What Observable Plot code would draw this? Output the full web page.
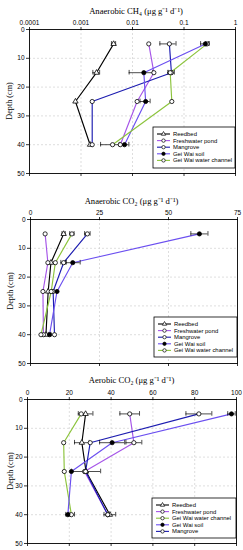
<!DOCTYPE html>
<html><head><meta charset="utf-8">
<script src="https://cdn.jsdelivr.net/npm/d3@7"></script>
<script src="https://cdn.jsdelivr.net/npm/@observablehq/plot@0.6"></script>
<style>
body{margin:0;background:#fff;}
#wrap{width:243px;}
svg{display:block;}
</style></head><body><div id="wrap"></div>
<script>
// ---------- shared ----------
const depths = [5, 15, 25, 40];
const depthTicks = [0, 10, 20, 30, 40, 50];
const depthLabel = "Depth (cm)";

// ---------- panel 1: anaerobic CH4 ----------
const ch4Title = "Anaerobic CH₄ (μg g⁻¹ d⁻¹)";
const ch4Ticks = [0.0001, 0.001, 0.01, 0.1, 1];
const ch4Order = ["Reedbed", "Freshwater pond", "Mangrove", "Gei Wai soil", "Gei Wai water channel"];
const ch4Reedbed    = [0.0043, 0.0020, 0.00078, 0.0015];
const ch4Freshwater = [0.0207, 0.026, 0.0123, 0.0058];
const ch4Mangrove   = [0.052, 0.057, 0.00165, 0.00165];
const ch4Soil       = [0.26, 0.0166, 0.018, 0.0070];
const ch4Channel    = [0.28, 0.054, 0.058, 0.0041];
const ch4ReedbedErr    = [0.0004, 0.0003, 0, 0];
const ch4FreshwaterErr = [0, 0, 0, 0];
const ch4MangroveErr   = [0.018, 0.008, 0, 0];
const ch4SoilErr       = [0.05, 0.008, 0.004, 0.0015];
const ch4ChannelErr    = [0.02, 0.005, 0, 0.0017];

// ---------- panel 2: anaerobic CO2 ----------
const co2anTitle = "Anaerobic CO₂ (μg g⁻¹ d⁻¹)";
const co2anTicks = [0, 25, 50, 75];
const co2anOrder = ["Reedbed", "Freshwater pond", "Mangrove", "Gei Wai soil", "Gei Wai water channel"];
const co2anReedbed    = [12.0, 7.4, 6.4, 5.6];
const co2anFreshwater = [5.3, 6.3, 4.5, 4.7];
const co2anMangrove   = [20.6, 12.0, 8.2, 8.7];
const co2anSoil       = [61.2, 15.3, 9.6, 6.9];
const co2anChannel    = [15.0, 9.0, 7.5, 3.8];
const co2anReedbedErr    = [0.6, 0, 0, 0];
const co2anFreshwaterErr = [0, 0, 0, 0];
const co2anMangroveErr   = [1.0, 1.0, 0, 0];
const co2anSoilErr       = [3.1, 2.7, 0, 0.5];
const co2anChannelErr    = [0.8, 0, 0, 0];

// ---------- panel 3: aerobic CO2 ----------
const co2aeTitle = "Aerobic CO₂ (μg g⁻¹ d⁻¹)";
const co2aeTicks = [0, 20, 40, 60, 80, 100];
const co2aeOrder = ["Reedbed", "Freshwater pond", "Gei Wai water channel", "Gei Wai soil", "Mangrove"];
const co2aeReedbed    = [27.8, 26.0, 28.0, 39.4];
const co2aeFreshwater = [48.9, 50.9, 27.3, 38.4];
const co2aeMangrove   = [82.0, 30.0, 27.8, 38.4];
const co2aeSoil       = [97.6, 40.5, 21.0, 19.3];
const co2aeChannel    = [25.7, 17.3, 17.6, 21.0];
const co2aeReedbedErr    = [3.5, 3.5, 7.0, 2.8];
const co2aeFreshwaterErr = [4.7, 3.8, 0, 0];
const co2aeMangroveErr   = [6.2, 0, 0, 0];
const co2aeSoilErr       = [1.8, 6.0, 0, 1.0];
const co2aeChannelErr    = [0, 0, 0, 1.5];

// ---------- styles ----------
const seriesColor = {
  "Reedbed": "#000000",
  "Freshwater pond": "#a655e8",
  "Mangrove": "#1c1cb0",
  "Gei Wai soil": "#6b4ff0",
  "Gei Wai water channel": "#8cc43c"
};
const SANS = "'Liberation Sans', Arial, sans-serif";
const SERIF = "'Liberation Serif', 'Times New Roman', serif";

function buildRows(map) {
  const rows = [];
  for (const [name, vals, errs] of map) {
    vals.forEach((v, i) => rows.push({s: name, d: depths[i], v, e: errs[i]}));
  }
  return rows;
}

function panel(cfg) {
  const rows = buildRows(cfg.series);
  const names = cfg.order;
  const errRows = rows.filter(r => r.e > 0).map(r => ({d: r.d, lo: Math.max(r.v - r.e, cfg.minX), hi: r.v + r.e}));
  const capRows = errRows.flatMap(r => [{d: r.d, x: r.lo}, {d: r.d, x: r.hi}]);
  const gridStyle = {stroke: "#c8c8c8", strokeOpacity: 1, strokeDasharray: "2,2", strokeWidth: 0.6};
  const svg = Plot.plot({
    width: 243, height: cfg.height,
    marginTop: cfg.mt, marginBottom: cfg.mb, marginLeft: cfg.ml, marginRight: cfg.mr,
    x: {type: cfg.type, domain: cfg.domain},
    y: {domain: [0, 50], reverse: true},
    color: {domain: names, range: names.map(n => seriesColor[n])},
    style: {fontFamily: SANS, fontSize: "6.5px", background: "white", color: "#000", overflow: "visible"},
    marks: [
      Plot.gridX(cfg.ticks.slice(1, -1), gridStyle),
      Plot.gridY([10, 20, 30, 40], gridStyle),
      Plot.axisX({anchor: "top", ticks: cfg.ticks, tickFormat: cfg.fmt, tickSize: 3, tickPadding: 1.5, label: null, strokeWidth: 0.8}),
      Plot.axisX({anchor: "bottom", ticks: cfg.ticks, tickFormat: () => "", tickSize: 3, label: null, strokeWidth: 0.8}),
      Plot.axisY({ticks: depthTicks, tickSize: 3, tickPadding: 2, label: null, strokeWidth: 0.8}),
      Plot.frame({stroke: "#000", strokeWidth: 0.9}),
      Plot.line(rows, {x: "v", y: "d", z: "s", stroke: "s", strokeWidth: 1.15}),
      Plot.ruleY(errRows, {y: "d", x1: "lo", x2: "hi", stroke: "#000", strokeWidth: 0.7}),
      Plot.ruleX(capRows, {x: "x", y1: r => r.d - 0.8, y2: r => r.d + 0.8, stroke: "#000", strokeWidth: 0.7}),
      Plot.dot(rows.filter(r => r.s === "Reedbed"), {x: "v", y: "d", symbol: "triangle", r: 2.0, fill: "white", stroke: "#000", strokeWidth: 0.8}),
      Plot.dot(rows.filter(r => r.s !== "Reedbed" && r.s !== "Gei Wai soil"), {x: "v", y: "d", r: 2.1, fill: "white", stroke: "#000", strokeWidth: 0.8}),
      Plot.dot(rows.filter(r => r.s === "Gei Wai soil"), {x: "v", y: "d", r: 2.1, fill: "#000", stroke: "#000", strokeWidth: 0.8})
    ]
  });
  const s = d3.select(svg);
  // title
  s.append("text").attr("x", cfg.titleX).attr("y", cfg.titleY)
    .attr("text-anchor", "middle").attr("font-family", SERIF).attr("font-size", "8.6px").attr("fill", "#000")
    .text(cfg.title);
  // y label
  const cy = cfg.mt + (cfg.height - cfg.mt - cfg.mb) / 2;
  s.append("text").attr("transform", `translate(${cfg.ylabX},${cy}) rotate(-90)`)
    .attr("text-anchor", "middle").attr("dy", "0.35em").attr("font-family", SERIF).attr("font-size", "8.2px").attr("fill", "#000")
    .text(depthLabel);
  // legend
  const [bx, by, bw, bh] = cfg.legend;
  const g = s.append("g").attr("text-anchor", "start");
  g.append("rect").attr("x", bx).attr("y", by).attr("width", bw).attr("height", bh)
    .attr("fill", "white").attr("stroke", "#000").attr("stroke-width", 0.8);
  names.forEach((n, i) => {
    const yy = by + 7 + i * 6.6;
    g.append("line").attr("x1", bx + 4).attr("x2", bx + 17).attr("y1", yy).attr("y2", yy)
      .attr("stroke", seriesColor[n]).attr("stroke-width", 1.1);
    if (n === "Reedbed") {
      g.append("path").attr("d", d3.symbol(d3.symbolTriangle, 8)()).attr("transform", `translate(${bx + 10.5},${yy})`)
        .attr("fill", "white").attr("stroke", "#000").attr("stroke-width", 0.7);
    } else {
      g.append("circle").attr("cx", bx + 10.5).attr("cy", yy).attr("r", 1.7)
        .attr("fill", n === "Gei Wai soil" ? "#000" : "white").attr("stroke", "#000").attr("stroke-width", 0.7);
    }
    g.append("text").attr("x", bx + 20).attr("y", yy).attr("dy", "0.35em").attr("text-anchor", "start")
      .attr("font-family", SANS).attr("font-size", "5.9px").attr("fill", "#000").text(n);
  });
  return svg;
}

const wrap = document.getElementById("wrap");

wrap.appendChild(panel({
  title: ch4Title, titleX: 136, titleY: 13.5, ylabX: 9,
  type: "log", domain: [0.0001, 1], ticks: ch4Ticks, fmt: d => String(d), minX: 0.00011,
  order: ch4Order,
  series: [["Reedbed", ch4Reedbed, ch4ReedbedErr], ["Freshwater pond", ch4Freshwater, ch4FreshwaterErr],
           ["Mangrove", ch4Mangrove, ch4MangroveErr], ["Gei Wai soil", ch4Soil, ch4SoilErr],
           ["Gei Wai water channel", ch4Channel, ch4ChannelErr]],
  height: 183, mt: 29, mb: 10, ml: 29, mr: 8,
  legend: [153, 127, 82, 41]
}));

wrap.appendChild(panel({
  title: co2anTitle, titleX: 131.5, titleY: 20.5, ylabX: 10,
  type: "linear", domain: [0, 75], ticks: co2anTicks, fmt: d => String(d), minX: 0,
  order: co2anOrder,
  series: [["Reedbed", co2anReedbed, co2anReedbedErr], ["Freshwater pond", co2anFreshwater, co2anFreshwaterErr],
           ["Mangrove", co2anMangrove, co2anMangroveErr], ["Gei Wai soil", co2anSoil, co2anSoilErr],
           ["Gei Wai water channel", co2anChannel, co2anChannelErr]],
  height: 189, mt: 36, mb: 9, ml: 30, mr: 6,
  legend: [154, 134, 83, 40]
}));

wrap.appendChild(panel({
  title: co2aeTitle, titleX: 131.5, titleY: 10.5, ylabX: 10,
  type: "linear", domain: [0, 100], ticks: co2aeTicks, fmt: d => String(d), minX: 0,
  order: co2aeOrder,
  series: [["Reedbed", co2aeReedbed, co2aeReedbedErr], ["Freshwater pond", co2aeFreshwater, co2aeFreshwaterErr],
           ["Gei Wai water channel", co2aeChannel, co2aeChannelErr], ["Gei Wai soil", co2aeSoil, co2aeSoilErr],
           ["Mangrove", co2aeMangrove, co2aeMangroveErr]],
  height: 178, mt: 27, mb: 7, ml: 27, mr: 7,
  legend: [152, 126, 84, 40]
}));
</script></body></html>
